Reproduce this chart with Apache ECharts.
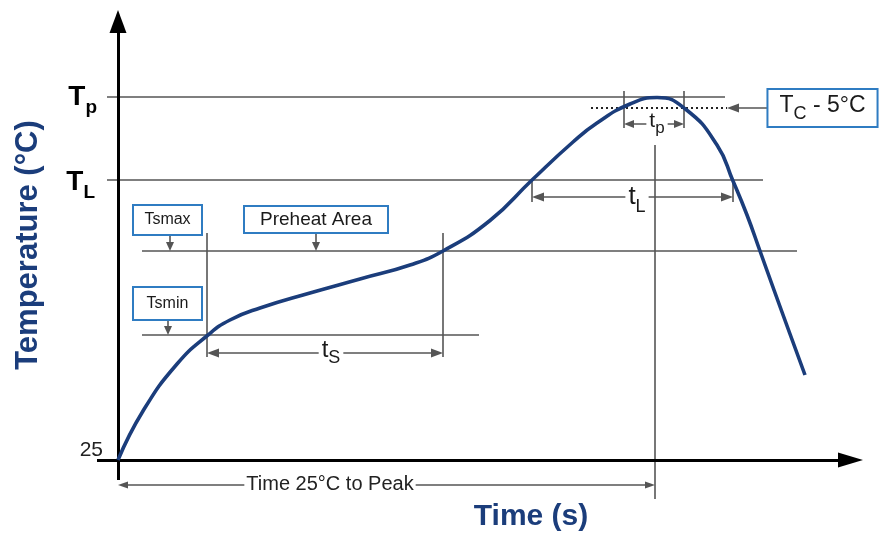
<!DOCTYPE html>
<html>
<head>
<meta charset="utf-8">
<script src="https://cdn.jsdelivr.net/npm/echarts@6/dist/echarts.min.js"></script>
<style>html,body{margin:0;padding:0;background:#fff}#c{width:885px;height:535px}</style>
</head>
<body>
<div id="c"></div>
<script>
// ---- profile curve (time in s, temperature in °C, schematic) ----
const timeS = [0, 12.5, 29.5, 45, 56, 71, 96, 121, 146, 162.5, 186, 207, 227.5, 239.5, 256, 269.5, 284, 299.5, 307.5, 314.5, 321, 328, 336, 343.5];
const tempC = [25, 49.5, 73, 87.5, 95, 101, 108.5, 115.5, 122.5, 129.5, 144.75, 165, 184, 193.5, 203, 206.25, 200.25, 182.5, 164.5, 147.5, 129.5, 110, 88, 67.5];

// ---- temperature levels ----
const levelNames = ['Tp', 'TL', 'Tsmax', 'Tsmin', 'TcMinus5', 'T25'];
const levelTemps = [206.5, 165, 129.5, 87.5, 201, 25];

// ---- time marks ----
const markNames = ['tsStart', 'tsEnd', 'tL1', 'tL2', 'tp1', 'tp2', 'tPeak'];
const markTimes = [44.5, 162.5, 207, 307.5, 253, 283, 268.5];

// ---- texts ----
const boxTexts = ['Tsmax', 'Preheat Area', 'Tsmin'];
const axisTitles = ['Temperature (°C)', 'Time (s)'];
const peakText = 'Time 25°C to Peak';
const tickLabel25 = '25';

const L = n => levelTemps[levelNames.indexOf(n)];
const M = n => markTimes[markNames.indexOf(n)];

const U = 0.5; // data units per pixel on both axes
const GRAY = '#555';
const BLUE_BOX = '#2f7cc2';
const NAVY = '#1b3d7b';
const FONT = 'Liberation Sans, Arial, sans-serif';

function seg(x1, y1, x2, y2, style) {
  return [{coord: [x1, y1], symbol: 'none'}, {coord: [x2, y2], symbol: 'none', lineStyle: style}];
}
// arrow with tip(s) exactly at endpoints; headLen/headW in px
function arrow(x1, y1, x2, y2, both, headW, headLen, style) {
  const dx = x2 - x1, dy = y2 - y1, d = Math.hypot(dx, dy);
  const ux = dx / d, uy = dy / d, off = headLen / 2 * U;
  const ex = x2 - ux * off, ey = y2 - uy * off;
  const sx = both ? x1 + ux * off : x1, sy = both ? y1 + uy * off : y1;
  return [
    {coord: [sx, sy], symbol: both ? 'triangle' : 'none', symbolSize: [headW, headLen]},
    {coord: [ex, ey], symbol: 'triangle', symbolSize: [headW, headLen], lineStyle: style}
  ];
}

const thin = {color: GRAY, width: 1.6, type: 'solid'};
const axisSt = {color: '#000', width: 3, type: 'solid'};

const tp = L('Tp'), tl = L('TL'), tsmax = L('Tsmax'), tsmin = L('Tsmin'), tc5 = L('TcMinus5'), t25 = L('T25');

const lines = [
  seg(-5.5, tp, 303.5, tp, thin),
  seg(-5.5, tl, 322.5, tl, thin),
  seg(12, tsmax, 339.5, tsmax, thin),
  seg(12, tsmin, 180.5, tsmin, thin),
  seg(M('tsStart'), 138.5, M('tsStart'), 76.5, thin),
  seg(M('tsEnd'), 138.5, M('tsEnd'), 76.5, thin),
  seg(M('tp1'), 209.5, M('tp1'), 191, thin),
  seg(M('tp2'), 209.5, M('tp2'), 191, thin),
  seg(M('tPeak'), 182.5, M('tPeak'), 5.5, thin),
  seg(M('tL1'), tl, M('tL1'), 154, thin),
  seg(M('tL2'), tl, M('tL2'), 154, thin)
];
const arrows = [
  arrow(M('tsStart'), 78.5, M('tsEnd'), 78.5, true, 9, 12, thin),
  arrow(M('tL1'), 156.5, M('tL2'), 156.5, true, 9, 12, thin),
  arrow(M('tp1'), 193, M('tp2'), 193, true, 8, 10, thin),
  arrow(0, 12.5, M('tPeak'), 12.5, true, 7, 10, thin),
  arrow(325, tc5, 304.5, tc5, false, 9, 12, thin),
  arrow(26, 137.5, 26, tsmax, false, 8, 9, thin),
  arrow(99, 138.5, 99, tsmax, false, 8, 9, thin),
  arrow(25, 95, 25, tsmin, false, 8, 9, thin)
];
const axesLines = [
  arrow(0, 15, 0, 250, false, 17, 23, axisSt),
  arrow(-10.5, t25, 372.5, t25, false, 15, 25, axisSt)
];

function boxLabel(x, y, text, w, h, fs) {
  return {
    value: [x, y],
    label: {
      show: true, position: 'inside', formatter: text,
      fontFamily: FONT, fontSize: fs, color: '#1a1a1a',
      backgroundColor: '#fff', borderColor: BLUE_BOX, borderWidth: 2,
      width: w, height: h, lineHeight: h, align: 'center', verticalAlign: 'middle', padding: 0
    }
  };
}
function subLabel(x, y, main, sub, fsMain, fsSub, bold, pos, subDrop, bg) {
  return {
    value: [x, y],
    label: {
      show: true, position: pos, distance: 0,
      formatter: '{a|' + main + '}{b|' + sub + '}',
      backgroundColor: bg || 'transparent',
      padding: bg ? [0, 3] : 0,
      rich: {
        a: {fontSize: fsMain, fontWeight: bold ? 'bold' : 'normal', color: bold ? '#000' : '#1a1a1a', fontFamily: FONT, lineHeight: fsMain + subDrop, verticalAlign: 'top'},
        b: {fontSize: fsSub, fontWeight: bold ? 'bold' : 'normal', color: bold ? '#000' : '#1a1a1a', fontFamily: FONT, lineHeight: fsSub, verticalAlign: 'bottom'}
      }
    }
  };
}

const labels = [
  boxLabel(24.75, 145, boxTexts[0], 67, 28, 16),
  boxLabel(99, 145.25, boxTexts[1], 142, 25, 19),
  boxLabel(24.75, 103.25, boxTexts[2], 67, 31, 16),
  subLabel(-10.5, tp - 1.5, 'T', 'p', 28, 19, true, 'left', 6),
  subLabel(-11.5, tl - 2.5, 'T', 'L', 28, 19, true, 'left', 6),
  subLabel(106.5, 78.5, 't', 'S', 24, 18, false, 'inside', 5, '#fff'),
  subLabel(M('tPeak') + 1, 193, 't', 'p', 21, 17, false, 'inside', 5, '#fff'),
  subLabel(M('tPeak') - 9, 155, 't', 'L', 26, 18, false, 'inside', 6, '#fff'),
  {
    value: [352.25, tc5],
    label: {
      show: true, position: 'inside',
      formatter: '{a|T}{b|C}{a| - 5°C}',
      backgroundColor: '#fff', borderColor: BLUE_BOX, borderWidth: 2,
      padding: [4, 11, 3, 11],
      rich: {
        a: {fontSize: 23, color: '#1a1a1a', fontFamily: FONT, lineHeight: 29, verticalAlign: 'top'},
        b: {fontSize: 18, color: '#1a1a1a', fontFamily: FONT, lineHeight: 18, verticalAlign: 'bottom'}
      }
    }
  },
  {
    value: [-7.5, 30],
    label: {show: true, position: 'left', distance: 0, formatter: tickLabel25, fontSize: 21, color: '#222', fontFamily: FONT}
  },
  {
    value: [106, 13],
    label: {show: true, position: 'inside', formatter: peakText, fontSize: 20, color: '#222', fontFamily: FONT, backgroundColor: '#fff', padding: [0, 2]}
  }
];

const chart = echarts.init(document.getElementById('c'), null, {renderer: 'canvas'});
chart.setOption({
  animation: false,
  backgroundColor: '#fff',
  grid: {left: 78, right: 23, top: 10, bottom: 25, containLabel: false},
  xAxis: {type: 'value', min: -20, max: 372, show: false},
  yAxis: {type: 'value', min: 0, max: 250, show: false},
  graphic: [
    {type: 'text', x: 28, y: 245, rotation: Math.PI / 2,
     style: {text: axisTitles[0], fill: NAVY, font: 'bold 31px "Liberation Sans", Arial, sans-serif', align: 'center', verticalAlign: 'middle'}},
    {type: 'text', x: 531, y: 517,
     style: {text: axisTitles[1], fill: NAVY, font: 'bold 30px "Liberation Sans", Arial, sans-serif', align: 'center', verticalAlign: 'middle'}}
  ],
  series: [
    {type: 'line', data: [], silent: true, markLine: {silent: true, animation: false, symbol: 'none', label: {show: false}, lineStyle: thin, data: lines}},
    {type: 'line', data: [], silent: true, markLine: {silent: true, animation: false, label: {show: false}, lineStyle: thin, itemStyle: {color: GRAY}, data: arrows}},
    {type: 'line', data: [], silent: true, markLine: {silent: true, animation: false, symbol: 'none', label: {show: false},
      data: [seg(236.5, tc5, 304.5, tc5, {color: '#222', width: 2, type: [2, 3]})]}},
    {type: 'line', data: timeS.map((t, i) => [t, tempC[i]]), smooth: 0.5, symbol: 'none',
     lineStyle: {color: NAVY, width: 3.6}, z: 5, silent: true},
    {type: 'line', data: [], silent: true, z: 6, markLine: {silent: true, animation: false, label: {show: false}, itemStyle: {color: '#000'}, lineStyle: axisSt, data: axesLines}},
    {type: 'scatter', data: labels, symbolSize: 0, silent: true, z: 10, itemStyle: {color: 'transparent', opacity: 1}}
  ]
});
</script>
</body>
</html>
